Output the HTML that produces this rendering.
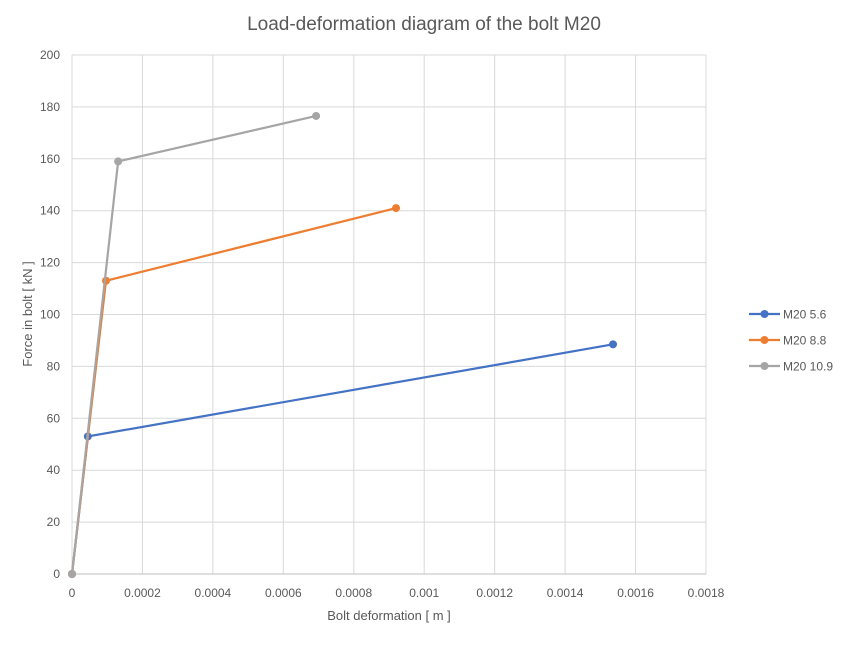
<!DOCTYPE html>
<html><head><meta charset="utf-8"><style>
body{margin:0;background:#fff;font-family:"Liberation Sans",Arial,sans-serif;}
svg text{font-family:"Liberation Sans",Arial,sans-serif;}
</style></head><body>
<svg id="chart" width="851" height="642" xmlns="http://www.w3.org/2000/svg">
<rect width="851" height="642" fill="#fff"/>
<text x="424" y="30" text-anchor="middle" font-size="19" fill="#595959">Load-deformation diagram of the bolt M20</text>
<g id="grid"></g><g id="axes"></g><g id="series"></g><g id="legend"></g>
<text x="389" y="620" text-anchor="middle" font-size="13" fill="#595959">Bolt deformation [ m ]</text>
<text transform="translate(32,314) rotate(-90)" text-anchor="middle" font-size="13" fill="#595959">Force in bolt [ kN ]</text>
</svg>
<script>
const xTicks=[0,0.0002,0.0004,0.0006,0.0008,0.001,0.0012,0.0014,0.0016,0.0018];
const xTickLabels=["0","0.0002","0.0004","0.0006","0.0008","0.001","0.0012","0.0014","0.0016","0.0018"];
const yTicks=[0,20,40,60,80,100,120,140,160,180,200];
const seriesNames=["M20 5.6","M20 8.8","M20 10.9"];
const seriesColors=["#4472c4","#ed7d31","#a5a5a5"];
const x56=[0,0.000045,0.001536];
const y56=[0,53,88.5];
const x88=[0,0.0000965,0.00092];
const y88=[0,113,141];
const x109=[0,0.000131,0.000693];
const y109=[0,159,176.5];
const seriesX=[x56,x88,x109];
const seriesY=[y56,y88,y109];

const NS="http://www.w3.org/2000/svg";
const L=72,R=706,T=55,B=574;
const sx=v=>L+(v-0)/(0.0018)*(R-L);
const sy=v=>B-(v/200)*(B-T);
function mk(tag,attrs,parent){const e=document.createElementNS(NS,tag);for(const k in attrs)e.setAttribute(k,attrs[k]);parent.appendChild(e);return e;}
const grid=document.getElementById('grid'),axes=document.getElementById('axes'),ser=document.getElementById('series'),leg=document.getElementById('legend');
xTicks.forEach((t,i)=>{
 const l=mk('line',{x1:sx(t),x2:sx(t),y1:T,y2:B,stroke:'#d9d9d9','stroke-width':1},grid);
 
 
 const tx=mk('text',{x:sx(t),y:B+23,'text-anchor':'middle','font-size':12,fill:'#595959'},axes);
 tx.textContent=xTickLabels[i];
 
 
});
yTicks.forEach(t=>{
 const l=mk('line',{x1:L,x2:R,y1:sy(t),y2:sy(t),stroke:'#d9d9d9','stroke-width':1},grid);
 
 
 const tx=mk('text',{x:L-12,y:sy(t)+4,'text-anchor':'end','font-size':12,fill:'#595959'},axes);
 tx.textContent=String(t);
 
 
});
const ax=mk('line',{x1:L,x2:R,y1:B,y2:B,stroke:'#bfbfbf','stroke-width':1},axes);


seriesNames.forEach((n,s)=>{
 const pts=seriesX[s].map((x,i)=>sx(x)+','+sy(seriesY[s][i])).join(' ');
 const pl=mk('polyline',{points:pts,fill:'none',stroke:seriesColors[s],'stroke-width':2.2},ser);
 
 
 seriesX[s].forEach((x,i)=>{
  const c=mk('circle',{cx:sx(x),cy:sy(seriesY[s][i]),r:4,fill:seriesColors[s]},ser);
  
  
 });
 const ly=314+s*26;
 const g=mk('g',{},leg);
 
 
 mk('line',{x1:749,x2:780,y1:ly,y2:ly,stroke:seriesColors[s],'stroke-width':2.2},g);
 mk('circle',{cx:764.5,cy:ly,r:4,fill:seriesColors[s]},g);
 const t=mk('text',{x:783,y:ly+4.5,'font-size':12,fill:'#595959'},g);
 t.textContent=n;
});
</script>
</body></html>
